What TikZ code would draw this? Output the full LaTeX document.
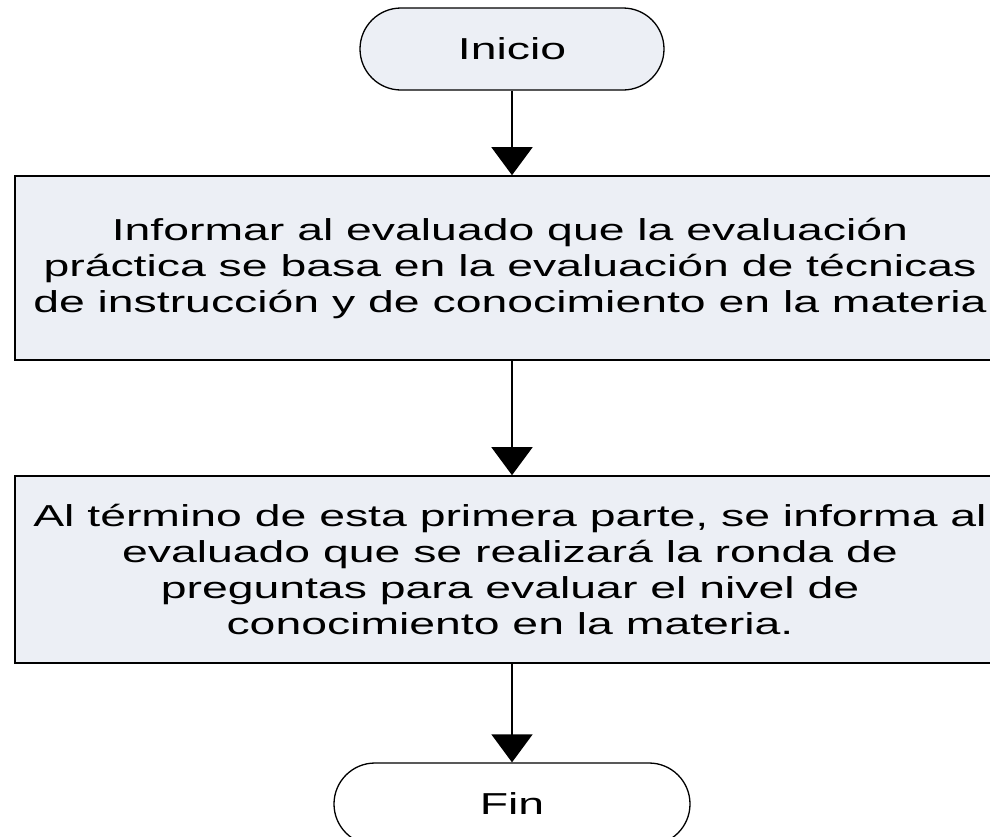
\documentclass[tikz,border=0pt]{standalone}
\usepackage{fontspec}
\setmainfont{Liberation Sans}
\newfontfamily\widefont[FakeStretch=1.53]{Liberation Sans}
\usetikzlibrary{arrows.meta,shapes.misc}
\definecolor{boxfill}{RGB}{236,239,245}
\begin{document}
\begin{tikzpicture}[x=1pt,y=-1pt,
  proc/.style={draw=black, line width=1.6pt, fill=boxfill, minimum width=990pt,
    inner sep=0pt, align=center, font={\widefont\fontsize{30.3}{36}\selectfont}},
  term/.style={rounded rectangle, draw=black, line width=1.3pt, minimum width=304pt,
    minimum height=82pt, inner sep=0pt, font={\widefont\fontsize{30.3}{36}\selectfont}},
  flow/.style={line width=1.5pt, -{Triangle[width=41pt,length=28pt]}}]
\useasboundingbox (0,0) rectangle (990,836);
\clip (0,0) rectangle (990,836);
\node[term, fill=boxfill] (start) at (512,49) {Inicio};
\node[proc, minimum height=184pt] (b1) at (510,268)
  {Informar al evaluado que la evaluación\\práctica se basa en la evaluación de técnicas\\de instrucción y de conocimiento en la materia};
\node[proc, minimum height=187pt] (b2) at (510,569.5)
  {Al término de esta primera parte, se informa al\\evaluado que se realizará la ronda de\\preguntas para evaluar el nivel de\\conocimiento en la materia.};
\node[term, fill=white, minimum width=356pt] (fin) at (512,804) {Fin};
\draw[flow] (start.south) -- (start.south |- b1.north);
\draw[flow] (start.south |- b1.south) -- (start.south |- b2.north);
\draw[flow] (start.south |- b2.south) -- (fin.north);
\end{tikzpicture}
\end{document}
